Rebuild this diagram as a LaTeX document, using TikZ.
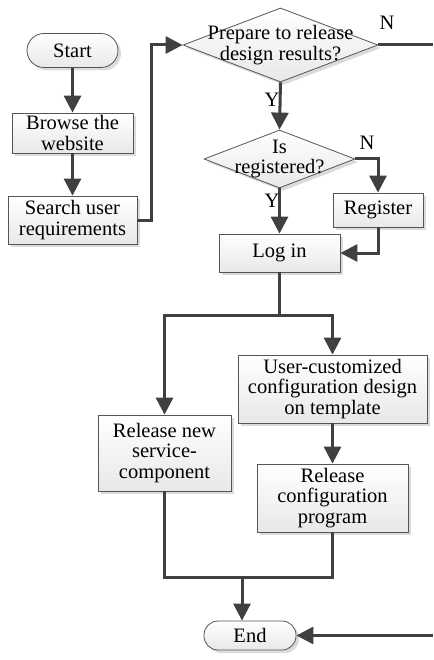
\documentclass[tikz,border=0pt]{standalone}
\usepackage{fontspec}
\setmainfont{Liberation Serif}
\usetikzlibrary{arrows.meta,shapes.geometric,shadows}
\definecolor{ln}{HTML}{404040}
\definecolor{bd}{HTML}{555555}
\tikzset{
  base/.style={draw=bd, line width=0.8pt, top color=white, bottom color=gray!18,
    drop shadow={shadow xshift=3pt, shadow yshift=-3pt, fill=gray!35, opacity=0.8},
    inner sep=0pt, align=center, font=\fontsize{20.5}{20.5}\selectfont},
  proc/.style={base, rectangle},
  term/.style={base, rectangle, rounded corners=14pt},
  dia/.style={base, diamond},
  txt/.style={align=center, inner sep=0pt, font=\fontsize{20.5}{20.5}\selectfont},
  lbl/.style={inner sep=0pt, font=\fontsize{20.5}{20.5}\selectfont},
  line/.style={draw=ln, line width=3pt},
  arr/.style={line, -{Triangle[length=17pt,width=17pt]}},
}
\begin{document}
\begin{tikzpicture}[x=1pt,y=-1pt]
\useasboundingbox (0,0) rectangle (433,660);
% nodes
\node[term, minimum width=91pt, minimum height=34pt, rounded corners=17pt] (start) at (72.5,50.5) {Start};
\node[proc, minimum width=121pt, minimum height=40pt] (browse) at (72.5,133) {Browse the\\website};
\node[proc, minimum width=129pt, minimum height=48pt] (search) at (72.5,220) {Search user\\requirements};
\node[dia, minimum width=195pt, minimum height=74pt] (d1) at (280.5,45) {};
\node[txt] (d1t) at (d1) {Prepare to release\\design results?};
\node[dia, minimum width=151pt, minimum height=58pt] (d2) at (279.5,159) {};
\node[txt] (d2t) at (d2) {Is\\registered?};
\node[proc, minimum width=90pt, minimum height=34pt] (reg) at (378,210) {Register};
\node[proc, minimum width=121pt, minimum height=38pt] (login) at (279.5,253) {Log in};
\node[proc, minimum width=133pt, minimum height=76pt] (relnew) at (164.5,453) {Release new\\service-\\component};
\node[proc, minimum width=189pt, minimum height=68pt] (user) at (332.5,389) {User-customized\\configuration design\\on template};
\node[proc, minimum width=151pt, minimum height=68pt] (relconf) at (332.5,498) {Release\\configuration\\program};
\node[term, minimum width=92pt, minimum height=29pt] (end) at (250,635.5) {End};
% coordinates
\coordinate (nout) at (433,45);
\coordinate (split) at (279.5,315);
\coordinate (merge) at (242,577);
\coordinate (endin) at (433,635.5);
% connectors
\draw[arr] (start) -- (browse);
\draw[arr] (browse) -- (search);
\draw[arr] (search.east) -- ++(14,0) |- (d1.west);
\draw[line] (d1.east) -- (nout);
\draw[arr] (d1.south) -- (d2.north);
\draw[arr] (d2.east) -| (reg.north);
\draw[arr] (d2.south) -- (login.north);
\draw[arr] (reg.south) |- (login.east);
\draw[line] (login.south) -- (split);
\draw[arr] (split) -| (relnew.north);
\draw[arr] (split) -| (user.north);
\draw[arr] (user.south) -- (relconf.north);
\draw[line] (relnew.south) |- (merge) -| (relconf.south);
\draw[arr] (merge) -- (merge |- end.north);
\draw[arr] (endin) -- (end.east);
% labels
\node[lbl] (n1) at (387,23) {N};
\node[lbl] (y1) at (272,100) {Y};
\node[lbl] (n2) at (367,143) {N};
\node[lbl] (y2) at (272,201) {Y};
\end{tikzpicture}
\end{document}
